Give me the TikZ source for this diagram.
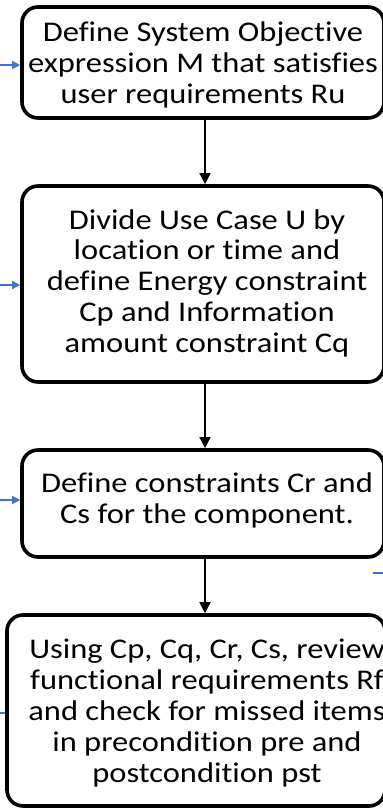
\documentclass[tikz,border=0pt]{standalone}
\usepackage{fontspec}
\setmainfont{Carlito}[Ligatures={NoCommon}, FakeStretch=1.14]
\usetikzlibrary{arrows.meta}
\definecolor{flowblue}{RGB}{68,114,196}
\tikzset{
  x=1pt, y=-1pt,
  stepbox/.style={draw=black, line width=3.6pt, rounded corners=16pt, fill=white, inner sep=0pt},
  steptext/.style={align=center, inner sep=0pt, font=\fontsize{28.5}{30.8}\selectfont},
  flowline/.style={draw=black, line width=1.4pt, -{Triangle[length=11pt,width=11pt]}},
  sideline/.style={draw=flowblue, line width=1.4pt, -{Triangle[length=8pt,width=8pt]}},
  stubline/.style={draw=flowblue, line width=1.4pt},
}
\begin{document}
\begin{tikzpicture}
\useasboundingbox (0,0) rectangle (383,809);
\fill[white] (0,0) rectangle (383,809);

% process boxes
\node[stepbox, minimum width=362pt, minimum height=111pt] (b1) at (203,62.5) {};
\node[stepbox, minimum width=362pt, minimum height=196pt] (b2) at (203,284) {};
\node[stepbox, minimum width=362pt, minimum height=107pt] (b3) at (203,503.5) {};
\node[stepbox, minimum width=378pt, minimum height=191pt] (b4) at (196,710.5) {};

% box texts
\node[steptext] (t1) at (203,65) {Define System Objective\\expression M that satisfies\\user requirements Ru};
\node[steptext] (t2) at (207,283) {Divide Use Case U by\\location or time and\\define Energy constraint\\Cp and Information\\amount constraint Cq};
\node[steptext] (t3) at (207,500) {Define constraints Cr and\\Cs for the component.};
\node[steptext] (t4) at (207,713) {Using Cp, Cq, Cr, Cs, review\\functional requirements Rf\\and check for missed items\\in precondition pre and\\postcondition pst};

% main flow
\draw[flowline] ([xshift=2pt]b1.south) -- ([xshift=2pt]b2.north);
\draw[flowline] ([xshift=2pt]b2.south) -- ([xshift=2pt]b3.north);
\draw[flowline] ([xshift=2pt]b3.south) -- ([xshift=9pt]b4.north);

% incoming side arrows
\coordinate (in1) at (0,65);
\coordinate (in2) at (0,285);
\coordinate (in3) at (0,500);
\draw[sideline] (in1) -- (in1 -| b1.west);
\draw[sideline] (in2) -- (in2 -| b2.west);
\draw[sideline] (in3) -- (in3 -| b3.west);

% line stubs leaving the frame
\coordinate (r1) at (373,573);
\coordinate (r2) at (383,573);
\coordinate (l1) at (0,713);
\coordinate (l2) at (5,713);
\draw[stubline] (r1) -- (r2);
\draw[stubline] (l1) -- (l2);
\end{tikzpicture}
\end{document}
